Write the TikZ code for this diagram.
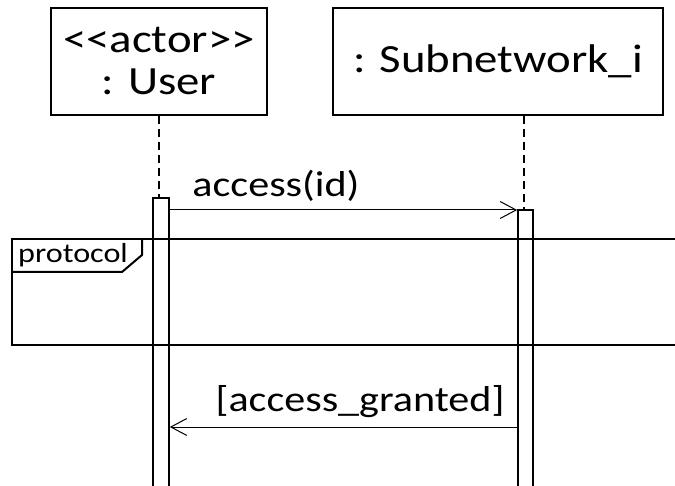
\documentclass[tikz,border=0pt]{standalone}
\usepackage{fontspec}
\setmainfont{Carlito}[FakeStretch=1.17]
\usetikzlibrary{arrows.meta}

\begin{document}
\begin{tikzpicture}[x=1pt,y=-1pt,
  objbox/.style={draw,line width=1.6pt,inner sep=0pt,align=center,
    font=\fontsize{40}{42}\selectfont},
  actbar/.style={draw,line width=1.6pt,inner sep=0pt,minimum width=15pt,
    minimum height=320pt,anchor=north},
  lifeline/.style={line width=1.3pt,dash pattern=on 8pt off 5pt},
  msg/.style={line width=1pt,-{Straight Barb[length=16pt,width=17pt,line width=1pt]}},
  msglabel/.style={anchor=base,inner sep=0pt,font=\fontsize{36}{40}\selectfont},
  framebox/.style={line width=2pt},
  framelabel/.style={anchor=base west,inner sep=0pt,font=\fontsize{27.5}{30}\selectfont}]
  \useasboundingbox (0,0) rectangle (675,486);
  \clip (0,0) rectangle (675,486);

  % interaction frame with its name tab
  \draw[framebox] (690,239) -- (12,239) -- (12,345) -- (690,345);
  \draw[framebox] (12,272) -- (122,272) -- (142,255) -- (142,239);
  \node[framelabel] (protocol) at (18,263) {protocol};

  % participants (kerns keep << and >> from turning into guillemets)
  \node[objbox,minimum width=216pt,minimum height=107pt] (user) at (159,61.5)
    {<\kern0pt<actor>\kern0pt>\\: User};
  \node[objbox,minimum width=330pt,minimum height=107pt] (subnet) at (498,61.5)
    {: Subnetwork\_i};

  % activation bars
  \node[actbar,minimum width=16pt] (ua) at (161,197) {};
  \node[actbar] (sa) at (525.5,209) {};

  % lifelines
  \draw[lifeline] (user.south) -- (user.south |- ua.north);
  \draw[lifeline] (subnet.south -| 524,0) -- (524,0 |- sa.north);

  % messages
  \coordinate (m1) at (0,210);
  \coordinate (m2) at (0,427);
  \draw[msg] (ua.east |- m1) -- (sa.west |- m1);
  \node[msglabel] (accessid) at (276,197) {access(id)};
  \draw[msg] (sa.west |- m2) -- (ua.east |- m2);
  \node[msglabel] (granted) at (360,411) {[access\_granted]};
\end{tikzpicture}
\end{document}
